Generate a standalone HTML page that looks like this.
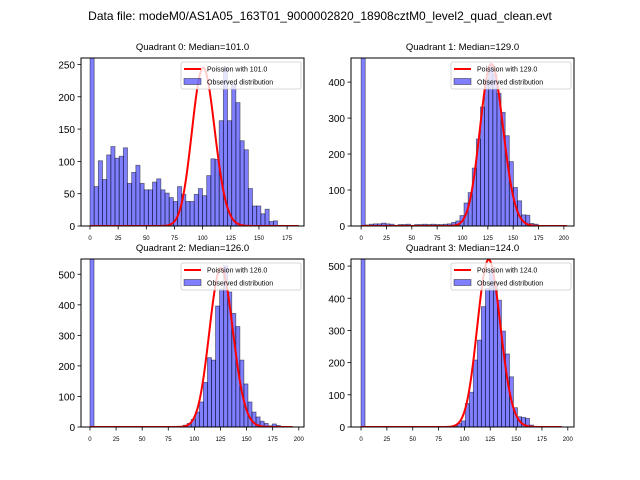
<!DOCTYPE html>
<html><head><meta charset="utf-8"><style>
body{margin:0;background:#fff;}
svg{display:block;font-family:"Liberation Sans","DejaVu Sans",sans-serif;}
</style></head><body>
<svg id="fig" width="640" height="480" viewBox="0 0 640 480">
<text x="320" y="20" font-size="12" text-anchor="middle">Data file: modeM0/AS1A05_163T01_9000002820_18908cztM0_level2_quad_clean.evt</text>
</svg>
<script>
const NS="http://www.w3.org/2000/svg";
const svg=document.getElementById('fig');
// data
const titles=["Quadrant 0: Median=101.0","Quadrant 1: Median=129.0","Quadrant 2: Median=126.0","Quadrant 3: Median=124.0"];
const medians=[101,129,126,124];
const curvePeaks=[245,450,520,520];
const binWidths=[3.7,4.06,3.88,3.88];
const q0Counts=[2000,61,101,72,110,123,105,108,121,66,83,94,66,56,56,68,73,56,51,44,38,61,49,38,38,49,58,47,78,104,103,163,245,163,219,191,132,118,58,31,31,19,26,7,8,1,1,0,0,1];
const q1Counts=[2000,3,5,6,6,8,6,5,2,4,4,5,2,4,4,5,4,5,4,4,5,6,10,14,29,64,93,161,242,331,408,445,422,369,316,251,179,107,70,31,30,7,5,1,1,1,0,0,0,1];
const q2Counts=[2000,0,0,0,0,0,0,0,0,0,0,0,0,0,0,0,0,0,0,0,0,1,2,6,12,25,49,82,146,227,219,396,452,528,442,372,329,219,141,82,49,33,19,12,4,10,5,2,0,1];
const q3Counts=[2000,0,0,0,0,0,0,0,0,0,0,0,0,0,0,0,0,0,0,0,0,1,2,4,11,19,73,108,208,270,374,431,488,451,394,298,227,156,60,32,30,27,6,1,0,0,0,0,0,1];
const counts=[q0Counts,q1Counts,q2Counts,q3Counts];
const xMaxData=[185,203,194,194];
const yTicks=[[0,50,100,150,200,250],[0,100,200,300,400],[0,100,200,300,400,500],[0,100,200,300,400,500]];
const xTicks=[[0,25,50,75,100,125,150,175],[0,25,50,75,100,125,150,175,200],[0,25,50,75,100,125,150,175,200],[0,25,50,75,100,125,150,175,200]];
// layout
const boxes=[[81,58,304,226],[351,58,574,226],[81,259,304,427],[351,259,574,427]];
const xlims=[[-8,190],[-10,210],[-8.6,205],[-9.7,206]];
const ylims=[[0,260],[0,467],[0,550],[0,522]];

function el(tag,attrs,parent){const e=document.createElementNS(NS,tag);for(const k in attrs)e.setAttribute(k,attrs[k]);(parent||svg).appendChild(e);return e;}

function pmfRel(lam,k){ // poisson pmf relative to pmf at mode
  let lp=k*Math.log(lam)-lam-lg(k+1);
  let lm=Math.floor(lam)*Math.log(lam)-lam-lg(Math.floor(lam)+1);
  return Math.exp(lp-lm);
}
function lg(n){let s=0;for(let i=2;i<n;i++)s+=Math.log(i);return s;}

for(let p=0;p<4;p++){
  const [L,T,R,B]=boxes[p];
  const g=el('g',{});
  
  
  const [x0,x1]=xlims[p],[y0,y1]=ylims[p];
  const X=v=>L+(v-x0)/(x1-x0)*(R-L);
  const Y=v=>B-(v-y0)/(y1-y0)*(B-T);
  const cp=el('clipPath',{id:'cp'+p},g);
  el('rect',{x:L,y:T,width:R-L,height:B-T},cp);
  const bars=el('g',{'clip-path':'url(#cp'+p+')'},g);
  
  
  const bw=binWidths[p];
  counts[p].forEach((c,i)=>{
    if(c<=0)return;
    const r=el('rect',{x:X(i*bw),y:Y(c),width:X((i+1)*bw)-X(i*bw),height:B-Y(c),fill:'rgba(0,0,255,0.5)',stroke:'rgba(0,0,0,0.5)','stroke-width':0.8},bars);
    
    
  });
  let d='';
  for(let k=0;k<=xMaxData[p];k++){d+=(k?'L':'M')+X(k).toFixed(2)+','+Y(curvePeaks[p]*pmfRel(medians[p],k)).toFixed(2);}
  const path=el('path',{d:d,fill:'none',stroke:'red','stroke-width':2,'clip-path':'url(#cp'+p+')'},g);
  
  
  const fr=el('rect',{x:L,y:T,width:R-L,height:B-T,fill:'none',stroke:'#000','stroke-width':1},g);
  
  
  const tt=el('text',{x:(L+R)/2,y:T-8,'font-size':'9.5','text-anchor':'middle'},g);
  tt.textContent=titles[p];
  
  
  yTicks[p].forEach(v=>{
    el('line',{x1:L-3.5,x2:L,y1:Y(v),y2:Y(v),stroke:'#000','stroke-width':0.8},g);
    const t=el('text',{x:L-6,y:Y(v)+4,'font-size':'10','text-anchor':'end'},g);
    t.textContent=v;
    
    
  });
  xTicks[p].forEach(v=>{
    el('line',{x1:X(v),x2:X(v),y1:B,y2:B+3.5,stroke:'#000','stroke-width':0.8},g);
    const t=el('text',{x:X(v),y:B+14,'font-size':'6','text-anchor':'middle'},g);
    t.textContent=v;
    
    
  });
  const lg_=el('g',{},g);
  
  
  el('rect',{x:R-123,y:T+4,width:120,height:27,rx:2,fill:'rgba(255,255,255,0.8)',stroke:'#ccc','stroke-width':0.8},lg_);
  el('line',{x1:R-120,x2:R-103,y1:T+11,y2:T+11,stroke:'red','stroke-width':2},lg_);
  el('rect',{x:R-120,y:T+20.5,width:17,height:6,fill:'rgba(0,0,255,0.5)',stroke:'rgba(0,0,0,0.5)','stroke-width':0.8},lg_);
  const l1=el('text',{x:R-97,y:T+13.5,'font-size':'7'},lg_);
  l1.textContent='Poission with '+medians[p].toFixed(1);
  
  
  const l2=el('text',{x:R-97,y:T+26.5,'font-size':'7'},lg_);
  l2.textContent='Observed distribution';
  
  
}
</script>
</body></html>
